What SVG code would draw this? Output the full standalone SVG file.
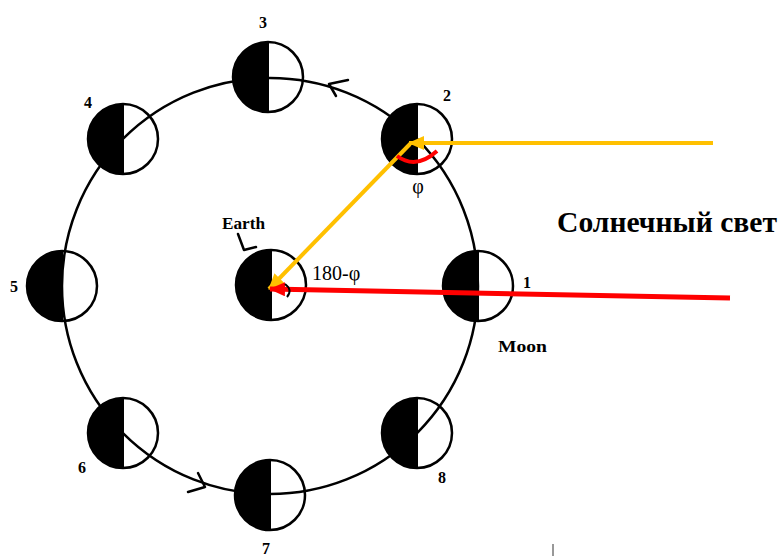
<svg xmlns="http://www.w3.org/2000/svg" xmlns:xlink="http://www.w3.org/1999/xlink" width="779" height="556" viewBox="0 0 779 556">
<style>
.num{font-family:"Liberation Serif",serif;font-weight:bold;font-size:16px;fill:#000;text-anchor:middle}
.lbl{font-family:"Liberation Serif",serif;font-weight:bold;font-size:17px;fill:#000}
.greek{font-family:"Liberation Serif","DejaVu Serif",serif;font-size:20px;fill:#000}
.ru{font-family:"Liberation Serif",serif;font-weight:bold;font-size:29px;fill:#000}
.orbit{fill:none;stroke:#000;stroke-width:2.5}
.tick{fill:none;stroke:#000;stroke-width:2.5;stroke-linecap:round;stroke-linejoin:round}
.yel{fill:none;stroke:#FFC000;stroke-width:4}
.red{fill:none;stroke:#FF0000;stroke-width:5}
</style>
<defs>
<g id="phase">
<path d="M0,-35 A35,35 0 0 0 0,35 Z" fill="#000"/>
<circle r="35" fill="none" stroke="#000" stroke-width="2.5"/>
<line x1="0" y1="-35" x2="0" y2="35" stroke="#000" stroke-width="2"/>
</g>
<marker id="ahY" markerUnits="userSpaceOnUse" markerWidth="16" markerHeight="14" refX="15" refY="7" orient="auto">
<path d="M0,0 L16,7 L0,14 Z" fill="#FFC000"/>
</marker>
<marker id="ahR" markerUnits="userSpaceOnUse" markerWidth="16" markerHeight="14" refX="15" refY="7" orient="auto">
<path d="M0,0 L16,7 L0,14 Z" fill="#FF0000"/>
</marker>
</defs>
<rect width="779" height="556" fill="#fff"/>
<circle class="orbit" cx="270" cy="286" r="208"/>
<g id="moon1" transform="translate(478,286)"><use xlink:href="#phase" href="#phase"/></g>
<g id="moon2" transform="translate(417,139)"><use xlink:href="#phase" href="#phase"/></g>
<g id="moon3" transform="translate(268,77)"><use xlink:href="#phase" href="#phase"/></g>
<g id="moon4" transform="translate(123,139)"><use xlink:href="#phase" href="#phase"/></g>
<g id="moon5" transform="translate(62,286)"><use xlink:href="#phase" href="#phase"/></g>
<g id="moon6" transform="translate(123,433)"><use xlink:href="#phase" href="#phase"/></g>
<g id="moon7" transform="translate(270,495)"><use xlink:href="#phase" href="#phase"/></g>
<g id="moon8" transform="translate(417,433)"><use xlink:href="#phase" href="#phase"/></g>
<g id="earth" transform="translate(271,285)"><use xlink:href="#phase" href="#phase"/></g>
<g id="connectors">
<path class="tick" d="M348,80 L329,84 L336,96"/>
<path class="tick" d="M198,473 L205,487 L188,492"/>
<path class="tick" d="M238,234 L244,250 L256,247"/>
<path class="yel" d="M713,143 L409,143" marker-end="url(#ahY)"/>
<path class="yel" d="M410,144 L269,289" marker-end="url(#ahY)"/>
<path class="red" d="M730,298 L270,289" marker-end="url(#ahR)"/>
<path d="M397,156 Q416,170 437,151" fill="none" stroke="#FF0000" stroke-width="4"/>
<path d="M285,284 Q293,290 287,297" fill="none" stroke="#000" stroke-width="2"/>
</g>
<g id="labels">
<text class="num" x="263" y="28">3</text>
<text class="num" x="447" y="101">2</text>
<text class="num" x="88" y="108">4</text>
<text class="num" x="14" y="292">5</text>
<text class="num" x="527" y="288">1</text>
<text class="num" x="82" y="473">6</text>
<text class="num" x="266" y="554">7</text>
<text class="num" x="442" y="483">8</text>
<text class="lbl" x="498" y="352" textLength="49" lengthAdjust="spacingAndGlyphs">Moon</text>
<text class="lbl" x="222" y="229" textLength="43" lengthAdjust="spacingAndGlyphs">Earth</text>
<text class="greek" x="418" y="193" text-anchor="middle">φ</text>
<text class="greek" x="312" y="280">180-φ</text>
<text class="ru" x="557" y="232" textLength="220" lengthAdjust="spacingAndGlyphs">Солнечный свет</text>
</g>
<line x1="553" y1="544" x2="553" y2="556" stroke="#333" stroke-width="1"/>
</svg>
